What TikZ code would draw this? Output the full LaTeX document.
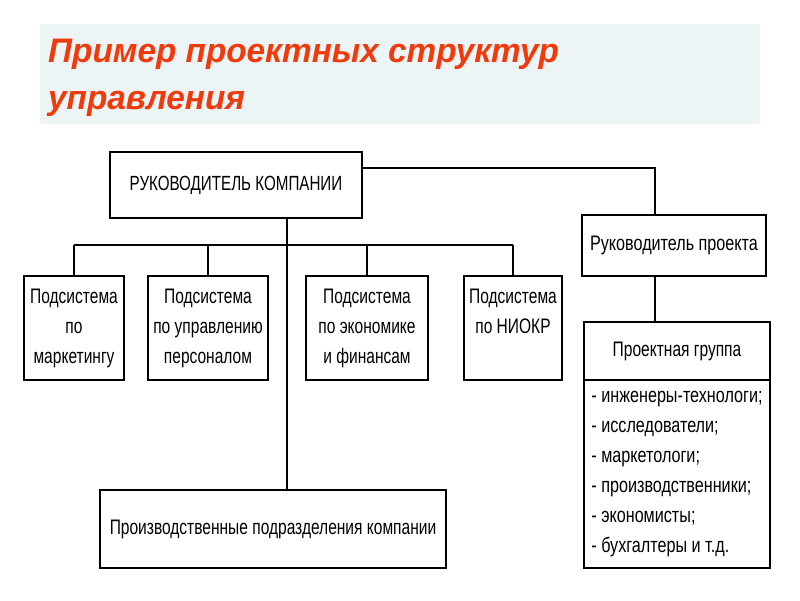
\documentclass[tikz,border=0pt]{standalone}
\usepackage{fontspec}
\setmainfont{Liberation Sans}
\newfontfamily\narrowfont[FakeStretch=0.74]{Liberation Sans}
\newfontfamily\widerfont[FakeStretch=0.77]{Liberation Sans}
\newfontfamily\titlefont[FakeStretch=0.98]{Liberation Sans}
\definecolor{titlebg}{HTML}{EDF4F6}
\definecolor{titlered}{HTML}{F03A0C}
\begin{document}
\begin{tikzpicture}[x=1pt,y=-1pt,
  box/.style={draw=black,line width=2.6pt,fill=white,rectangle,inner sep=0pt,
    font=\narrowfont\fontsize{21}{30}\selectfont,align=center},
  conn/.style={line width=2pt},
  thin/.style={line width=1.4pt},
  ttl/.style={anchor=base west,inner sep=0pt,text=titlered,
    font=\titlefont\bfseries\itshape\fontsize{34}{40}\selectfont}]
\useasboundingbox (0,0) rectangle (800,600);
\fill[white] (0,0) rectangle (800,600);
\fill[titlebg] (40,24) rectangle (760,124);
\node[ttl] (t1) at (48,62) {Пример проектных структур};
\node[ttl] (t2) at (48,109) {управления};

% boxes
\node[box,minimum width=252pt,minimum height=66pt,font=\narrowfont\fontsize{20.5}{24}\selectfont] (comp) at (236,185) {РУКОВОДИТЕЛЬ КОМПАНИИ};
\node[box,minimum width=184pt,minimum height=61pt,font=\widerfont\fontsize{21}{24}\selectfont] (rp) at (674,245.5) {Руководитель проекта};
\node[box,minimum width=100pt,minimum height=104pt] (s1) at (74,328) {Подсистема\\по\\маркетингу};
\node[box,minimum width=120pt,minimum height=104pt] (s2) at (208,328) {Подсистема\\по управлению\\персоналом};
\node[box,minimum width=122pt,minimum height=104pt] (s3) at (367,328) {Подсистема\\по экономике\\и финансам};
\node[box,minimum width=98pt,minimum height=104pt] (s4) at (513,328) {Подсистема\\по НИОКР\\\phantom{маркетингу}};
\node[box,minimum width=186pt,minimum height=58pt] (pgh) at (677,351) {Проектная группа};
\node[box,minimum width=186pt,minimum height=188pt,align=left,font=\widerfont\fontsize{21}{30}\selectfont] (pgb) at (677,474) {- инженеры-технологи;\\- исследователи;\\- маркетологи;\\- производственники;\\- экономисты;\\- бухгалтеры и т.д.};
\node[box,minimum width=346pt,minimum height=78pt] (prod) at (273,529) {Производственные подразделения компании};

% connectors
\coordinate (ce) at (362,168);
\coordinate (rpin) at (655,215);
\draw[conn] (ce) -| (rpin);
\coordinate (rpout) at (655,276);
\draw[conn] (rpout) -- (rpout |- pgh.north);
\coordinate (cs) at (287,218);
\draw[thin] (cs) -- (cs |- prod.north);
\coordinate (busL) at (74,245);
\coordinate (busR) at (513,245);
\draw[conn] (busL) -- (busR);
\draw[conn] (busL) -- (s1.north);
\draw[conn] (s2.north |- busL) -- (s2.north);
\draw[conn] (s3.north |- busL) -- (s3.north);
\draw[conn] (busR) -- (s4.north);
\end{tikzpicture}
\end{document}
